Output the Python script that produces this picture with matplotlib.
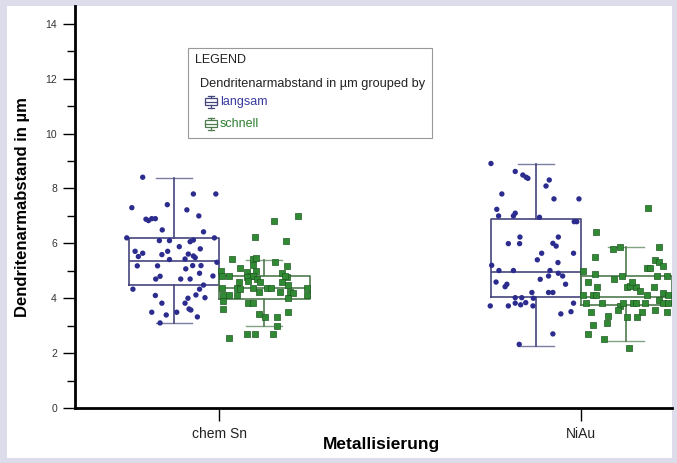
import matplotlib

matplotlib.use("Agg")
import matplotlib.pyplot as plt  # noqa: E402
from matplotlib.patches import Rectangle  # noqa: E402
from matplotlib.ticker import MultipleLocator  # noqa: E402

plt.rcParams["font.family"] = ["Liberation Sans", "DejaVu Sans"]

CATEGORIES = ["chem Sn", "NiAu"]
GROUPS = ["langsam", "schnell"]

# box statistics: whislo, q1, median, q3, whishi
BOX_SN_LANGSAM = [3.10, 4.48, 5.36, 6.20, 8.39]
BOX_SN_SCHNELL = [2.99, 3.97, 4.37, 4.81, 5.40]
BOX_NIAU_LANGSAM = [2.26, 4.05, 4.96, 6.89, 8.90]
BOX_NIAU_SCHNELL = [2.44, 3.75, 4.05, 4.81, 5.87]

# single measurements (jitter offset from the category, value in um)
SN_LANGSAM_DX = [-0.211, -0.071, -0.009, -0.241, -0.143, -0.089, -0.056, -0.202, -0.195, -0.186,
                 -0.176, -0.157, -0.043, -0.255, -0.013, -0.165, -0.137, -0.080, -0.071, -0.110,
                 -0.052, -0.232, -0.211, -0.142, -0.158, -0.085, -0.071, -0.223, -0.137, -0.094,
                 -0.066, -0.006, -0.226, -0.170, -0.092, -0.073, -0.050, -0.054, -0.017, -0.175,
                 -0.163, -0.106, -0.080, -0.043, -0.238, -0.054, -0.064, -0.176, -0.039, -0.086,
                 -0.158, -0.094, -0.083, -0.078, -0.186, -0.117, -0.146, -0.060, -0.163]
SN_LANGSAM_Y = [8.41, 7.80, 7.80, 7.30, 7.41, 7.22, 7.00, 6.88, 6.83, 6.90,
                6.90, 6.49, 6.42, 6.20, 6.20, 6.10, 6.10, 6.06, 6.12, 5.88,
                5.80, 5.71, 5.64, 5.71, 5.59, 5.61, 5.54, 5.52, 5.41, 5.43,
                5.48, 5.31, 5.18, 5.18, 5.07, 5.19, 5.19, 4.91, 4.81, 4.70,
                4.80, 4.70, 4.70, 4.48, 4.33, 4.33, 4.12, 4.10, 4.02, 4.00,
                3.82, 3.82, 3.61, 3.57, 3.49, 3.49, 3.39, 3.32, 3.10]

SN_SCHNELL_DX = [0.217, 0.153, 0.098, 0.185, 0.036, 0.095, 0.102, 0.155, 0.058, 0.093,
                 0.187, 0.005, 0.102, 0.078, 0.173, 0.009, 0.028, 0.086, 0.187, 0.077,
                 0.093, 0.182, 0.056, 0.081, 0.104, 0.113, 0.173, 0.189, 0.008, 0.049,
                 0.058, 0.095, 0.132, 0.143, 0.169, 0.196, 0.204, 0.242, 0.010, 0.028,
                 0.049, 0.109, 0.189, 0.244, 0.010, 0.081, 0.093, 0.010, 0.109, 0.127,
                 0.159, 0.189, 0.159, 0.078, 0.099, 0.150, 0.026]
SN_SCHNELL_Y = [7.00, 6.82, 6.22, 6.10, 5.43, 5.43, 5.46, 5.31, 5.11, 5.21,
                5.19, 4.99, 4.99, 4.97, 4.91, 4.82, 4.82, 4.82, 4.79, 4.79,
                4.81, 4.81, 4.61, 4.63, 4.70, 4.61, 4.58, 4.48, 4.39, 4.36,
                4.34, 4.39, 4.39, 4.39, 4.22, 4.22, 4.18, 4.39, 4.10, 4.10,
                4.12, 4.22, 4.02, 4.10, 3.90, 3.82, 3.82, 3.61, 3.42, 3.33,
                3.30, 3.51, 3.00, 2.70, 2.70, 2.69, 2.54]

NIAU_LANGSAM_DX = [-0.249, -0.182, -0.161, -0.152, -0.147, -0.088, -0.097, -0.219, -0.075, -0.006,
                   -0.233, -0.228, -0.187, -0.182, -0.115, -0.019, -0.012, -0.169, -0.063, -0.201,
                   -0.170, -0.078, -0.069, -0.109, -0.021, -0.121, -0.064, -0.247, -0.227, -0.187,
                   -0.086, -0.090, -0.063, -0.051, -0.113, -0.235, -0.205, -0.210, -0.043, -0.136,
                   -0.090, -0.078, -0.182, -0.164, -0.132, -0.182, -0.167, -0.153, -0.133, -0.201,
                   -0.251, -0.021, -0.028, -0.056, -0.078, -0.171]
NIAU_LANGSAM_Y = [8.91, 8.62, 8.49, 8.41, 8.37, 8.31, 8.09, 7.80, 7.62, 7.62,
                  7.24, 7.00, 7.00, 7.10, 6.95, 6.79, 6.79, 6.23, 6.23, 5.99,
                  5.99, 6.00, 5.90, 5.64, 5.64, 5.40, 5.30, 5.20, 5.01, 5.01,
                  5.01, 4.81, 4.91, 4.81, 4.69, 4.59, 4.51, 4.42, 4.51, 4.21,
                  4.21, 4.21, 4.02, 4.02, 4.00, 3.82, 3.76, 3.84, 3.72, 3.72,
                  3.72, 3.82, 3.51, 3.43, 2.70, 2.32]

NIAU_SCHNELL_DX = [0.186, 0.041, 0.106, 0.089, 0.214, 0.037, 0.204, 0.216, 0.227, 0.181,
                   0.191, 0.006, 0.037, 0.091, 0.112, 0.209, 0.237, 0.020, 0.126, 0.135,
                   0.152, 0.043, 0.200, 0.140, 0.006, 0.034, 0.041, 0.163, 0.181, 0.226,
                   0.241, 0.014, 0.057, 0.108, 0.117, 0.143, 0.152, 0.177, 0.216, 0.227,
                   0.241, 0.103, 0.204, 0.237, 0.028, 0.168, 0.154, 0.074, 0.126, 0.071,
                   0.032, 0.020, 0.064, 0.131]
NIAU_SCHNELL_Y = [7.28, 6.42, 5.88, 5.80, 5.88, 5.49, 5.40, 5.31, 5.19, 5.09,
                  5.09, 4.99, 4.90, 4.70, 4.81, 4.82, 4.82, 4.61, 4.42, 4.45,
                  4.40, 4.42, 4.42, 4.61, 4.10, 4.12, 4.10, 4.27, 4.10, 4.18,
                  4.10, 3.82, 3.82, 3.70, 3.82, 3.82, 3.82, 3.82, 3.94, 3.82,
                  3.82, 3.57, 3.57, 3.49, 3.49, 3.49, 3.33, 3.35, 3.33, 3.11,
                  3.03, 2.70, 2.50, 2.20]

LANGSAM_COLOR = "#2c2c8e"
SCHNELL_COLOR = "#2f8a33"
LANGSAM_BOX = "#46467e"
SCHNELL_BOX = "#4f7a4f"
BOX_WIDTH = 0.25


def box_dict(stats, label):
    lo, q1, med, q3, hi = stats
    return {"whislo": lo, "q1": q1, "med": med, "q3": q3, "whishi": hi, "fliers": [], "label": label}


fig = plt.figure(figsize=(6.77, 4.63), dpi=100, facecolor="#dcdcea")
fig.patches.append(Rectangle((7 / 677, 5 / 463), 665 / 677, 452 / 463, transform=fig.transFigure,
                             facecolor="white", edgecolor="none", zorder=-1))

ax = fig.add_axes([75 / 677, 55 / 463, 597 / 677, 402 / 463])
ax.set_facecolor("none")

cat_pos = list(range(len(CATEGORIES)))
boxes = {
    "langsam": [box_dict(BOX_SN_LANGSAM, ""), box_dict(BOX_NIAU_LANGSAM, "")],
    "schnell": [box_dict(BOX_SN_SCHNELL, ""), box_dict(BOX_NIAU_SCHNELL, "")],
}
for group, shift, edge in (("langsam", -BOX_WIDTH / 2, LANGSAM_BOX), ("schnell", BOX_WIDTH / 2, SCHNELL_BOX)):
    line = dict(color=edge, linewidth=1.2)
    ax.bxp(boxes[group], positions=[p + shift for p in cat_pos], widths=BOX_WIDTH,
           capwidths=0.1, showfliers=False, boxprops=line, whiskerprops=line,
           capprops=dict(color=edge, linewidth=1.0, alpha=0.7), medianprops=line,
           manage_ticks=False, zorder=2)

ax.scatter([0 + d for d in SN_LANGSAM_DX], SN_LANGSAM_Y, s=15, marker="o",
           color=LANGSAM_COLOR, edgecolors="none", zorder=3)
ax.scatter([1 + d for d in NIAU_LANGSAM_DX], NIAU_LANGSAM_Y, s=15, marker="o",
           color=LANGSAM_COLOR, edgecolors="none", zorder=3)
ax.scatter([0 + d for d in SN_SCHNELL_DX], SN_SCHNELL_Y, s=17, marker="s",
           color=SCHNELL_COLOR, edgecolors="#1f5a22", linewidths=0.5, zorder=3)
ax.scatter([1 + d for d in NIAU_SCHNELL_DX], NIAU_SCHNELL_Y, s=17, marker="s",
           color=SCHNELL_COLOR, edgecolors="#1f5a22", linewidths=0.5, zorder=3)

ax.set_xlim(-0.398, 1.251)
ax.set_ylim(0, 14.65)
ax.set_xticks(cat_pos)
ax.set_xticklabels(CATEGORIES, fontsize=10, color="#222222")
ax.yaxis.set_major_locator(MultipleLocator(2))
ax.yaxis.set_minor_locator(MultipleLocator(1))
ax.tick_params(axis="y", which="major", length=9, width=1, labelsize=7.5, labelcolor="#333333", pad=4)
ax.tick_params(axis="y", which="minor", length=6, width=1)
ax.tick_params(axis="x", length=9, width=1, pad=5)

for side in ("top", "right"):
    ax.spines[side].set_visible(False)
for side in ("left", "bottom"):
    ax.spines[side].set_linewidth(2)

ax.set_ylabel("Dendritenarmabstand in µm", fontsize=12, fontweight="bold", labelpad=11)
ax.set_xlabel("Metallisierung", fontsize=12.5, fontweight="bold")
ax.xaxis.set_label_coords(0.514, -0.072)

# legend panel
fig.patches.append(Rectangle((188 / 677, 325 / 463), 244 / 677, 90 / 463, transform=fig.transFigure,
                             facecolor="white", edgecolor="#999999", linewidth=0.8, zorder=5))
fig.text(195 / 677, 1 - 60 / 463, "LEGEND", fontsize=9, color="#222222", va="center", zorder=6)
fig.text(200 / 677, 1 - 84 / 463, "Dendritenarmabstand in µm grouped by", fontsize=9.2,
         color="#222222", va="center", zorder=6)
for i, (label, color, edge) in enumerate(((GROUPS[0], "#3a3aa0", LANGSAM_BOX),
                                          (GROUPS[1], "#2e7d32", SCHNELL_BOX))):
    yc = 102 + 22 * i
    x0 = 205
    fig.patches.append(Rectangle((x0 / 677, 1 - (yc + 3) / 463), 12 / 677, 7 / 463,
                                 transform=fig.transFigure, facecolor="white", edgecolor=edge,
                                 linewidth=0.9, zorder=6))
    fig.lines.append(plt.Line2D([x0 / 677, (x0 + 12) / 677], [1 - yc / 463] * 2,
                                transform=fig.transFigure, color=edge, linewidth=0.9, zorder=7))
    fig.lines.append(plt.Line2D([(x0 + 6) / 677] * 2, [1 - (yc - 6) / 463, 1 - (yc - 4) / 463],
                                transform=fig.transFigure, color=edge, linewidth=0.9, zorder=7))
    fig.lines.append(plt.Line2D([(x0 + 6) / 677] * 2, [1 - (yc + 3) / 463, 1 - (yc + 6) / 463],
                                transform=fig.transFigure, color=edge, linewidth=0.9, zorder=7))
    fig.lines.append(plt.Line2D([(x0 + 3) / 677, (x0 + 9) / 677], [1 - (yc - 6) / 463] * 2,
                                transform=fig.transFigure, color=edge, linewidth=0.9, zorder=7))
    fig.lines.append(plt.Line2D([(x0 + 3) / 677, (x0 + 9) / 677], [1 - (yc + 6) / 463] * 2,
                                transform=fig.transFigure, color=edge, linewidth=0.9, zorder=7))
    fig.text((x0 + 15) / 677, 1 - yc / 463, label, fontsize=9, color=color, va="center", zorder=6)

fig.savefig("out.png", dpi=100, facecolor=fig.get_facecolor())
